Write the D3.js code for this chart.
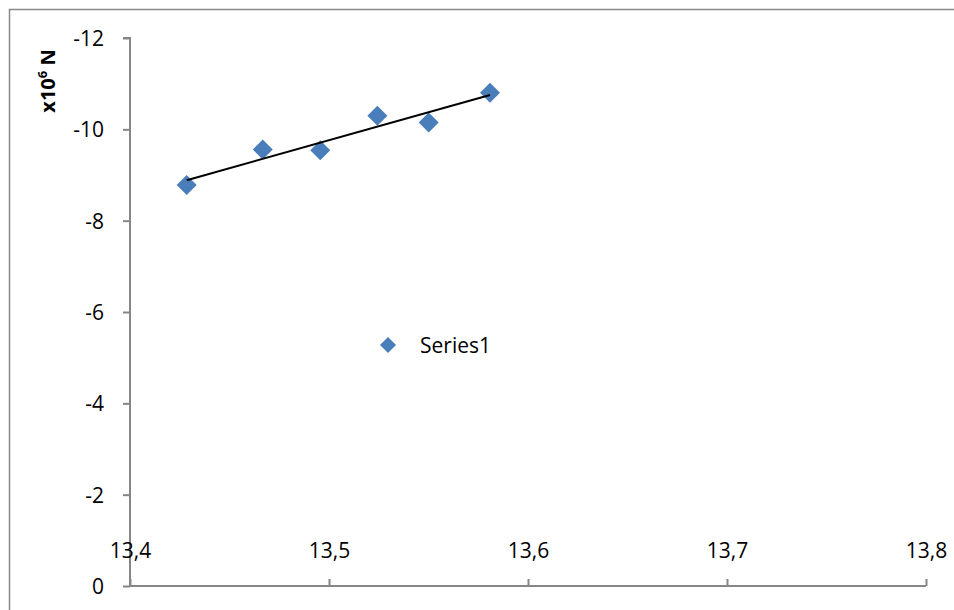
<!DOCTYPE html>
<html><head><meta charset="utf-8">
<script src="https://cdn.jsdelivr.net/npm/d3@7"></script>
<style>body{margin:0;background:#fff}svg{display:block}</style>
</head><body>
<script>
const xValues = [13.4285, 13.4667, 13.4956, 13.5243, 13.5501, 13.5809];
const yValues = [-8.78, -9.56, -9.54, -10.30, -10.15, -10.80];
const xTicks = [13.4, 13.5, 13.6, 13.7, 13.8];
const yTicks = [0, -2, -4, -6, -8, -10, -12];
const seriesName = "Series1";
const yTitle = "x10";

const W = 954, H = 610;
const svg = d3.select("body").append("svg").attr("width", W).attr("height", H);
const font = "'Open Sans', 'Liberation Sans', sans-serif";
const axisColor = "#868686";
const blue = "#4a7ebb";

// outer chart border
svg.append("rect").attr("x", 9.5).attr("y", 9.5).attr("width", 960).attr("height", 620)
  .attr("fill", "none").attr("stroke", "#898989").attr("stroke-width", 1.5);

const x = d3.scaleLinear().domain([13.4, 13.8]).range([130, 926]);
const y = d3.scaleLinear().domain([0, -12]).range([586, 38]);

// y axis
const yAxis = svg.append("g").attr("transform", "translate(130,0)")
  .call(d3.axisLeft(y).tickValues(yTicks).tickSize(7).tickPadding(19).tickFormat(d => d === 0 ? "0" : "-" + Math.abs(d)));
yAxis.selectAll("path,line").attr("stroke", axisColor).attr("stroke-width", 2);
yAxis.select(".domain").attr("d", `M-7,${y(-12)}H0V${y(0)}`);
yAxis.selectAll("text").attr("font-family", font).attr("font-size", 21).attr("fill", "#000").attr("dy", "0.36em");

// x axis (ticks inside, labels above)
const xAxis = svg.append("g").attr("transform", `translate(0,${y(0)})`)
  .call(d3.axisTop(x).tickValues(xTicks).tickSize(7).tickPadding(21).tickFormat(d => d3.format(".1f")(d).replace(".", ",")));
xAxis.selectAll("path,line").attr("stroke", axisColor).attr("stroke-width", 2);
xAxis.select(".domain").attr("d", `M${x(13.4)},0H${x(13.8)}`);
xAxis.selectAll("text").attr("font-family", font).attr("font-size", 21).attr("fill", "#000");

// y title
const t = svg.append("text").attr("transform", "translate(55,81) rotate(-90)")
  .attr("text-anchor", "middle").attr("font-family", font).attr("font-weight", "bold")
  .attr("font-size", 20).attr("fill", "#000");
t.append("tspan").text(yTitle);
t.append("tspan").attr("font-size", 13).attr("dy", "-0.6em").text("6");
t.append("tspan").attr("dy", "0.4em").text(" N");

// trendline (least squares)
const n = xValues.length;
const mx = d3.mean(xValues), my = d3.mean(yValues);
let sxy = 0, sxx = 0;
for (let i = 0; i < n; i++) { sxy += (xValues[i]-mx)*(yValues[i]-my); sxx += (xValues[i]-mx)**2; }
const slope = sxy / sxx, icpt = my - slope * mx;
const x0 = d3.min(xValues), x1 = d3.max(xValues);

const diamond = d3.symbol().type(d3.symbolSquare).size(200);
svg.append("g").selectAll("path").data(xValues.map((v, i) => [v, yValues[i]])).join("path")
  .attr("d", diamond).attr("fill", blue)
  .attr("transform", d => `translate(${x(d[0])},${y(d[1])}) rotate(45)`);

svg.append("line").attr("x1", x(x0)).attr("y1", y(slope*x0+icpt))
  .attr("x2", x(x1)).attr("y2", y(slope*x1+icpt)).attr("stroke", "#000").attr("stroke-width", 2);

// legend
svg.append("path").attr("d", d3.symbol().type(d3.symbolSquare).size(130))
  .attr("fill", blue).attr("transform", "translate(388,345) rotate(45)");
svg.append("text").attr("x", 420).attr("y", 345).attr("dy", "0.36em")
  .attr("font-family", font).attr("font-size", 21).attr("fill", "#000").text(seriesName);
</script>
</body></html>
